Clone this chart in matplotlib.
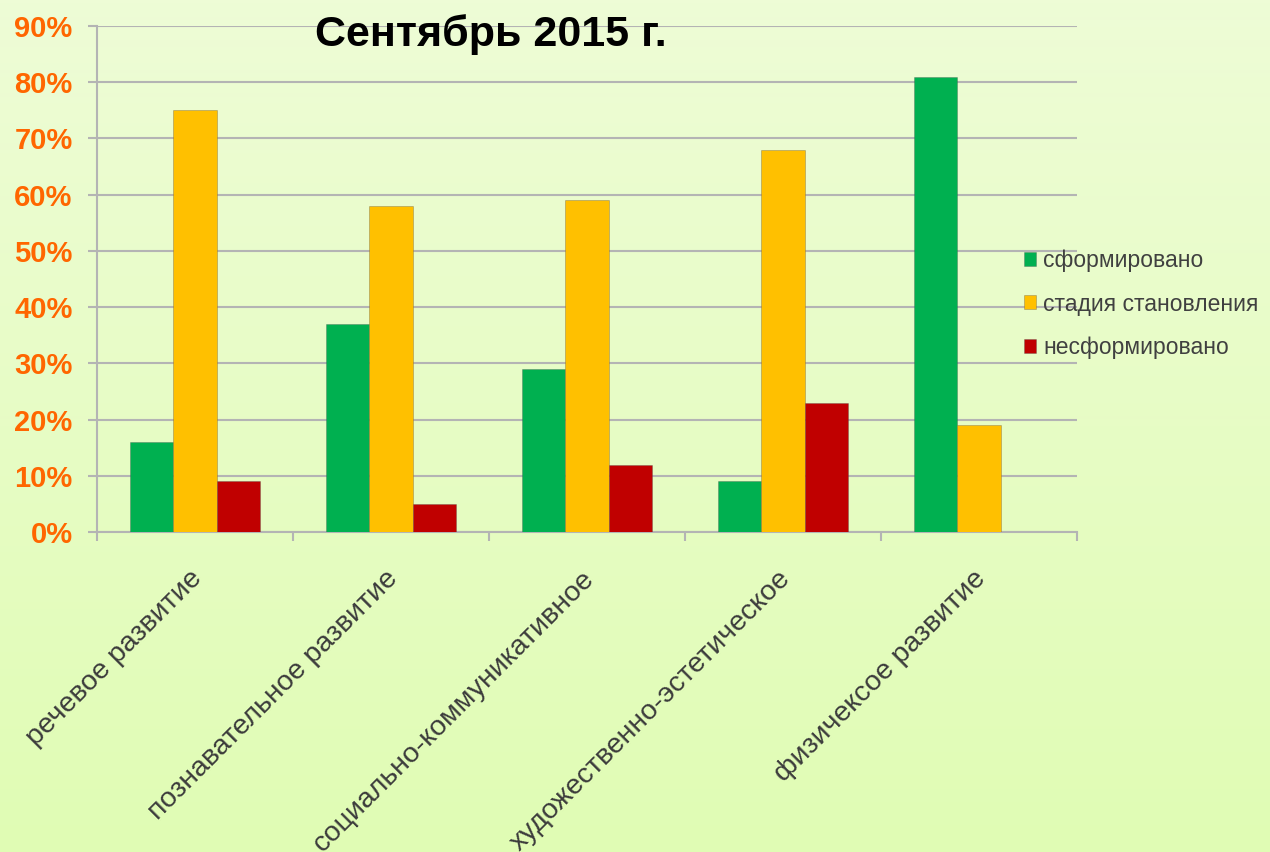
import matplotlib
matplotlib.use("Agg")
import matplotlib.pyplot as plt
import numpy as np
from matplotlib.ticker import FixedLocator, PercentFormatter
import matplotlib.transforms as mtransforms

categories = ["речевое развитие", "познавательное развитие", "социально-коммуникативное",
              "художественно-эстетическое", "физичексое развитие"]
series_names = ["сформировано", "стадия становления", "несформировано"]
formed = [16, 37, 29, 9, 81]
forming = [75, 58, 59, 68, 19]
not_formed = [9, 5, 12, 23, 0]
colors = ["#00B050", "#FFC000", "#C00000"]
yticks = [0, 10, 20, 30, 40, 50, 60, 70, 80, 90]
title = "Сентябрь 2015 г."

plt.rcParams['font.family'] = ['Liberation Sans', 'DejaVu Sans']

fig = plt.figure(figsize=(12.7, 8.52), dpi=100)

# background gradient
bg = fig.add_axes([0, 0, 1, 1], zorder=-10)
top = np.array([238, 252, 214]) / 255
bot = np.array([224, 252, 180]) / 255
t = np.linspace(0, 1, 256)[:, None]
grad = (top[None, :] * (1 - t) + bot[None, :] * t)[:, None, :]
bg.imshow(grad, aspect='auto', extent=[0, 1, 0, 1], origin='upper')
bg.axis('off')

ax = fig.add_axes([97 / 1270, 1 - 532 / 852, (1077 - 97) / 1270, (532 - 26) / 852])
ax.patch.set_alpha(0)

x = np.arange(len(categories))
w = 1 / 4.5
data = [formed, forming, not_formed]
for i, (vals, c, name) in enumerate(zip(data, colors, series_names)):
    ax.bar(x + (i - 1) * w, vals, width=w, color=c, edgecolor=(0.3, 0.3, 0.3, 0.35),
           linewidth=0.6, label=name, zorder=3)

ax.set_xlim(-0.5, len(categories) - 0.5)
ax.set_ylim(0, 90)
ax.yaxis.set_major_locator(FixedLocator(yticks))
ax.yaxis.set_major_formatter(PercentFormatter(decimals=0))
ax.grid(axis='y', color='#B4B4B4', linewidth=1.5, zorder=0)
ax.set_axisbelow(True)
for s in ['top', 'right']:
    ax.spines[s].set_visible(False)
for s in ['left', 'bottom']:
    ax.spines[s].set_color('#B4B4B4')
    ax.spines[s].set_linewidth(1.5)

ax.tick_params(axis='y', length=6.5, width=1.5, color='#B4B4B4', pad=11,
               labelcolor='#FF6600', labelsize=21)
for lbl in ax.get_yticklabels():
    lbl.set_fontweight('bold')

ax.set_xticks(x)
ax.set_xticklabels(categories, rotation=45, ha='right', rotation_mode='anchor',
                   fontsize=20.5, color='#3C3C3C')
ax.tick_params(axis='x', which='major', length=0, pad=24)
offset = mtransforms.ScaledTranslation(-6 / 100, 0, fig.dpi_scale_trans)
for lbl in ax.get_xticklabels():
    lbl.set_transform(lbl.get_transform() + offset)
ax.set_xticks(np.arange(-0.5, len(categories)), minor=True)
ax.tick_params(axis='x', which='minor', length=6.5, width=1.5, color='#B4B4B4')

fig.text(491 / 1270, 1 - 35 / 852, title, ha='center', va='center',
         fontsize=31, fontweight='bold', color='black')

leg = fig.legend(loc='center left', bbox_to_anchor=(1003 / 1270, 1 - 304 / 852),
                 frameon=False, fontsize=16.5, handlelength=0.55, handleheight=0.55,
                 handletextpad=0.3, labelspacing=0.9, labelcolor='#404040')

fig.savefig("out.png", dpi=100)
